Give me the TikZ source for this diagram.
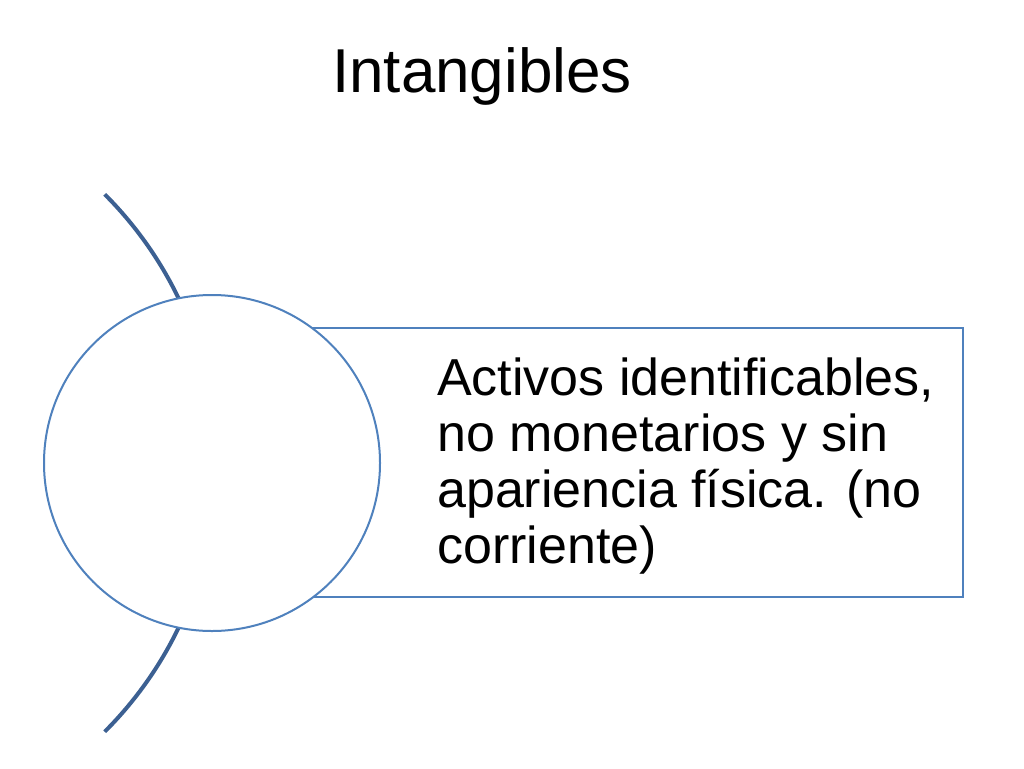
\documentclass[tikz,border=0pt]{standalone}
\usepackage{fontspec}
\setmainfont{Liberation Sans}
\usetikzlibrary{positioning}
\definecolor{accent}{RGB}{79,129,189}
\definecolor{arcblue}{RGB}{60,96,146}
\tikzset{
  framebox/.style={draw=accent,line width=2pt,fill=white},
  bodytext/.style={align=left,anchor=north west,inner sep=0pt,font=\fontsize{52}{56}\selectfont}
}
\begin{document}
\begin{tikzpicture}[x=1pt,y=-1pt]
  \useasboundingbox (0,0) rectangle (1024,768);

  \node (title) at (482,76) {\fontsize{62}{70}\selectfont Intangibles};

  % outer arc
  \draw [arcblue,line width=4pt] (-164,463) ++(-45:380) arc (-45:45:380);

  \draw [framebox] (212,328) rectangle (963,597);
  \node [bodytext] (text) at (437,358)
    {Activos identificables,\\no monetarios y sin\\apariencia física. (no\\corriente)};

  \node [framebox,circle,minimum size=336pt,inner sep=0pt] (hub) at (212,463) {};

\end{tikzpicture}
\end{document}
